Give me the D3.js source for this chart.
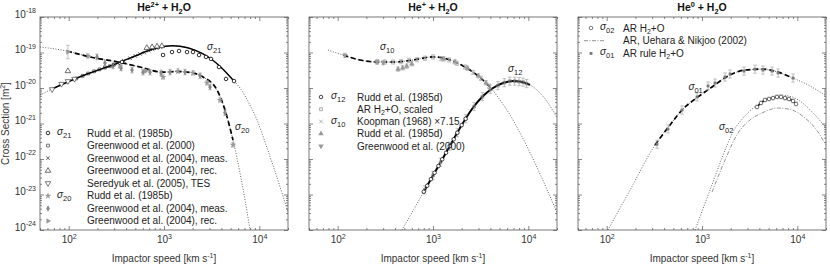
<!DOCTYPE html>
<html lang="en">
<head>
<meta charset="UTF-8">
<title>He + H2O cross sections</title>
<script src="https://cdn.jsdelivr.net/npm/d3@7"></script>
<style>
  body { margin: 0; background: #fff; }
  svg { font-family: "Liberation Sans", Arial, sans-serif; }
  .frame { fill: none; stroke: #555; stroke-width: 0.8px; }
  .axis path { display: none; }
  .axis line { stroke: #555; stroke-width: 0.7px; }
  .axis text { fill: #333; font-size: 10px; font-family: "Liberation Sans", Arial, sans-serif; }
  .dotted { fill: none; stroke: #555; stroke-width: 0.9px; stroke-dasharray: 1, 1.6; }
  .solid { fill: none; stroke: #000; stroke-width: 1.5px; }
  .thick { fill: none; stroke: #000; stroke-width: 2px; }
  .dashed { fill: none; stroke: #000; stroke-width: 1.7px; stroke-dasharray: 5, 3; }
  .dashdot { fill: none; stroke: #888; stroke-width: 0.9px; stroke-dasharray: 4, 1.5, 1, 1.5; }
  .err { stroke: #a8a8a8; stroke-width: 0.7px; }
  .lbl { font-size: 10px; fill: #222; }
</style>
</head>
<body>
<div id="chart"></div>
<script>
// speeds in km/s, cross sections in m^2
const speedDomain = [50, 20000];
const sigmaDomain = [1e-24, 1e-18];
const majorSpeeds = [1e2, 1e3, 1e4];
const majorSigmas = [1e-24, 1e-23, 1e-22, 1e-21, 1e-20, 1e-19, 1e-18];

const panelTitles = ["He^{2+} + H_{2}O", "He^{+} + H_{2}O", "He^{0} + H_{2}O"];
const xTitle = "Impactor speed [km s^{-1}]";
const yTitle = "Cross Section [m^{2}]";

// ---- He2+ ----
const fit21Speed = [50, 67, 103, 156, 271, 497, 713, 1030, 1230, 1470, 2110, 3030, 4030, 5300, 6280, 7980, 9460, 11750, 15000, 20000];
const fit21Sigma = [6.3e-21, 9.4e-21, 1.57e-20, 2.48e-20, 4.17e-20, 7.96e-20, 1.17e-19, 1.5e-19, 1.55e-19, 1.5e-19, 1.17e-19, 7.0e-20, 3.66e-20, 1.68e-20, 1.0e-20, 3.3e-21, 1.26e-21, 2.5e-22, 3.6e-23, 3.2e-24];
const fit21Range = [67, 5300];
const fit20Speed = [50, 96, 167, 329, 560, 953, 1400, 1875, 2566, 3597, 4365, 5297, 6430, 8000];
const fit20Sigma = [1.43e-19, 1.10e-19, 7.5e-20, 5.4e-20, 3.9e-20, 2.8e-20, 2.9e-20, 2.75e-20, 2.04e-20, 8.8e-21, 2.4e-21, 3.4e-22, 2.9e-23, 1.0e-24];
const fit20Range = [96, 5297];

const rudd21Speed = [362, 977, 1214, 1438, 1743, 2015, 2330, 2758, 3113, 3778, 4475, 5430];
const rudd21Sigma = [5.4e-20, 8.5e-20, 1.03e-19, 1.1e-19, 1.03e-19, 1.03e-19, 8.5e-20, 7.5e-20, 6.6e-20, 3.9e-20, 1.8e-20, 1.57e-20];
const gw00Speed21 = [120, 140, 160, 185, 210, 240, 270, 300];
const gw00Sigma21 = [1.85e-20, 2.2e-20, 2.55e-20, 2.95e-20, 3.35e-20, 3.75e-20, 4.1e-20, 4.6e-20];
const gw04mSpeed21 = [330, 380, 440, 500, 560, 620, 690, 760, 840, 920];
const gw04mSigma21 = [5.0e-20, 5.8e-20, 6.9e-20, 8.0e-20, 9.1e-20, 1.0e-19, 1.13e-19, 1.23e-19, 1.32e-19, 1.4e-19];
const gw04rSpeed21 = [98, 660, 750, 845, 950];
const gw04rSigma21 = [3.0e-20, 1.35e-19, 1.42e-19, 1.48e-19, 1.52e-19];
const sereSpeed21 = [67, 84, 98, 115];
const sereSigma21 = [9.2e-21, 1.3e-20, 1.55e-20, 1.8e-20];

const rudd20Speed = [977, 1403, 2015, 2826, 3870, 5300];
const rudd20Sigma = [2.04e-20, 3.0e-20, 2.66e-20, 1.39e-20, 4.6e-21, 2.5e-22];
const gw04mSpeed20 = [198, 240, 292, 354, 462, 602, 713, 931, 1157, 1662, 2389, 3040, 4365];
const gw04mSigma20 = [7.5e-20, 5.1e-20, 4.17e-20, 3.66e-20, 3.2e-20, 2.8e-20, 2.8e-20, 2.66e-20, 2.8e-20, 2.8e-20, 2.2e-20, 1.07e-20, 2.0e-21];
const gw04rSpeed20 = [98, 160, 345, 640];
const gw04rSigma20 = [1.03e-19, 7.96e-20, 4.17e-20, 3.0e-20];
const gw04rErr20 = [0.55, 0.15, 0.12, 0.12];

const legend1 = ["Rudd et al. (1985b)", "Greenwood et al. (2000)", "Greenwood et al. (2004), meas.", "Greenwood et al. (2004), rec.",
  "Seredyuk et al. (2005), TES", "Rudd et al. (1985b)", "Greenwood et al. (2004), meas.", "Greenwood et al. (2004), rec."];

// ---- He+ ----
const fit12Speed = [473, 617, 786, 1050, 1403, 1920, 2567, 3350, 4266, 5430, 6920, 8590, 10420, 13270, 16100, 20000];
const fit12Sigma = [1e-24, 3.5e-24, 1.1e-23, 4.3e-23, 1.68e-22, 7.5e-22, 2.56e-21, 5.96e-21, 1e-20, 1.38e-20, 1.57e-20, 1.48e-20, 1.22e-20, 7.2e-21, 3.8e-21, 1.43e-21];
const fit12Range = [786, 10420];
const fit10Speed = [79, 114, 171, 259, 399, 617, 1000, 1510, 2170, 2966, 3960, 5045, 6430, 8190, 11750, 20000];
const fit10Sigma = [1.17e-19, 8.5e-20, 6.15e-20, 5.4e-20, 5.4e-20, 6.15e-20, 7.5e-20, 6.15e-20, 3.9e-20, 2.2e-20, 1.07e-20, 4.6e-21, 1.74e-21, 5.4e-22, 7.7e-23, 3.1e-24];
const fit10Range = [114, 3960];

const rudd12Speed = [800, 870, 950, 1040, 1140, 1250, 1370, 1500, 1650, 1800, 2000, 2200];
const rudd12Sigma = [1.2e-23, 1.77e-23, 2.7e-23, 4.1e-23, 6.35e-23, 9.8e-23, 1.5e-22, 2.3e-22, 3.6e-22, 5.5e-22, 9.0e-22, 1.36e-21];
const ar12Speed = [820, 1000, 1200, 1500, 1800, 2200, 2700, 3300, 4000, 4800, 5600, 6400, 7200, 8000, 8800, 9600];
const ar12Sigma = [1.35e-23, 3.4e-23, 8.1e-23, 2.3e-22, 5.5e-22, 1.36e-21, 3.0e-21, 5.7e-21, 9.2e-21, 1.17e-20, 1.41e-20, 1.56e-20, 1.56e-20, 1.51e-20, 1.46e-20, 1.33e-20];
const koopSpeed10 = [259, 314, 380, 462, 560, 680, 824, 1000, 1213, 1472, 1786, 2167, 2630, 3190, 3870];
const koopSigma10 = [5.4e-20, 5.4e-20, 5.4e-20, 5.55e-20, 5.98e-20, 6.3e-20, 6.9e-20, 7.5e-20, 6.7e-20, 6.2e-20, 4.97e-20, 3.9e-20, 2.74e-20, 1.87e-20, 1.13e-20];
const rudd10Speed = [430, 480, 530, 600, 1300, 1700, 2300, 3000, 3600];
const rudd10Sigma = [3.4e-20, 3.7e-20, 4.1e-20, 4.8e-20, 6.6e-20, 5.4e-20, 3.6e-20, 2.2e-20, 1.4e-20];
const gw10Speed = [119, 259, 300];
const gw10Sigma = [8.3e-20, 5.5e-20, 5.2e-20];

const legend2 = ["Rudd et al. (1985d)", "AR H_{2}+O, scaled", "Koopman (1968) \u00d77.15", "Rudd et al. (1985d)", "Greenwood et al. (2000)"];

// ---- He0 ----
const fit01Speed = [103, 176, 321, 462, 617, 907, 1274, 1875, 2826, 4262, 6280, 9020, 13600, 20000];
const fit01Sigma = [1e-24, 1.34e-23, 2.48e-22, 9.1e-22, 2.4e-21, 5.6e-21, 1.07e-20, 2.18e-20, 3.2e-20, 3.4e-20, 2.8e-20, 1.9e-20, 1.14e-20, 5.96e-21];
const fit01Range = [321, 9020];
const rule01Speed = [337, 440, 617, 887, 1157, 1371, 1746, 1969, 2760, 3600, 4365, 5430, 6280, 9020];
const rule01Sigma = [2.6e-22, 7.0e-22, 2.4e-21, 5.6e-21, 1.14e-20, 1.38e-20, 2.04e-20, 2.48e-20, 3.0e-20, 3.4e-20, 3.2e-20, 3.0e-20, 2.65e-20, 1.9e-20];
const ar02Speed = [3780, 4160, 4583, 5050, 5562, 6127, 6747, 7430, 8185, 9016, 9695];
const ar02Sigma = [2.92e-21, 3.79e-21, 4.6e-21, 4.9e-21, 5.2e-21, 5.6e-21, 5.6e-21, 5.2e-21, 4.9e-21, 4.3e-21, 3.55e-21];
const fit02Speed = [845, 1214, 1622, 2115, 2826, 3780, 5170, 6580, 8800, 12040, 15350, 20000];
const fit02Sigma = [1e-24, 1.34e-23, 1.07e-22, 5.8e-22, 1.63e-21, 3.3e-21, 5.2e-21, 6.35e-21, 5.6e-21, 3.3e-21, 1.73e-21, 7.5e-22];
const ueharaSpeed = [1274, 1746, 2389, 3190, 4262, 6280, 8800, 12040, 15350, 20000];
const ueharaSigma = [1.17e-23, 9.4e-23, 5.4e-22, 1.26e-21, 1.98e-21, 2.73e-21, 2.4e-21, 1.43e-21, 7.5e-22, 2.48e-22];

const legend3 = ["AR H_{2}+O", "AR, Uehara & Nikjoo (2002)", "AR rule H_{2}+O"];

// curve labels, anchored in data units [speed, sigma, subscript]
const curveLabels = [
  [[2830, 1.17e-19, "21"], [5560, 6.6e-22, "20"]],
  [[278, 1.17e-19, "10"], [6125, 2.8e-20, "12"]],
  [[720, 8.8e-21, "01"], [1509, 6.6e-22, "02"]]
];

//////////////////// layout ////////////////////
const W = 830, H = 264;
const panelLeft = [40, 309, 578];
const plotW = 248, plotTop = 17, plotH = 213;

const svg = d3.select("#chart").append("svg").attr("width", W).attr("height", H);

const x = d3.scaleLog().domain(speedDomain).range([0, plotW]);
const y = d3.scaleLog().domain(sigmaDomain).range([plotH, 0]);

const minorOf = (lo, hi) => {
  let out = [];
  for (let e = Math.floor(Math.log10(lo)); e < Math.ceil(Math.log10(hi)); e++)
    for (let m = 2; m <= 9; m++) {
      let v = m * Math.pow(10, e);
      if (v >= lo * 0.999 && v <= hi * 1.001) out.push(v);
    }
  return out;
};
const minorSpeeds = minorOf(speedDomain[0], speedDomain[1]);
const minorSigmas = minorOf(sigmaDomain[0], sigmaDomain[1]);

// text with ^{..} and _{..}
function rich(sel, str, base) {
  let parts = str.split(/(\^\{[^}]*\}|_\{[^}]*\})/).filter(p => p);
  let shift = 0;
  parts.forEach(p => {
    let want = 0, txt = p, small = false;
    if (p[0] === "^") { want = -0.42 * base; txt = p.slice(2, -1); small = true; }
    else if (p[0] === "_") { want = 0.25 * base; txt = p.slice(2, -1); small = true; }
    let ts = sel.append("tspan").attr("dy", want - shift).text(txt);
    if (small) ts.attr("font-size", (base * 0.7) + "px");
    shift = want;
  });
}
function sigmaText(g, px, py, sub) {
  let t = g.append("text").attr("class", "lbl").attr("x", px).attr("y", py);
  t.append("tspan").attr("font-style", "italic").text("\u03c3");
  t.append("tspan").attr("dy", 3).attr("font-size", "7.5px").text(sub);
}

const shapes = {
  circle: d3.symbol(d3.symbolCircle, 10)(),
  square: d3.symbol(d3.symbolSquare, 8)(),
  times: "M-1.8,-1.8L1.8,1.8M-1.8,1.8L1.8,-1.8",
  triangle: d3.symbol(d3.symbolTriangle, 13)(),
  star: d3.symbol(d3.symbolStar, 14)(),
  diamond: d3.symbol(d3.symbolDiamond, 12)()
};
const styles = {
  rudd21: { shape: "circle", fill: "#fff", stroke: "#000", sw: 0.8 },
  gw00: { shape: "square", fill: "none", stroke: "#222", sw: 0.6 },
  gw04m: { shape: "times", fill: "none", stroke: "#222", sw: 0.7 },
  gw04r: { shape: "triangle", fill: "#fff", stroke: "#333", sw: 0.7 },
  sere: { shape: "triangle", rot: 180, fill: "#fff", stroke: "#444", sw: 0.7 },
  rudd20: { shape: "star", fill: "#999", stroke: "none" },
  gw04m20: { shape: "diamond", fill: "#8a8a8a", stroke: "none" },
  gw04r20: { shape: "triangle", rot: 90, fill: "#999", stroke: "none" },
  rudd12: { shape: "circle", fill: "#fff", stroke: "#000", sw: 0.7 },
  ar12: { shape: "square", fill: "none", stroke: "#777", sw: 0.6 },
  koop: { shape: "times", fill: "none", stroke: "#999", sw: 0.7 },
  rudd10: { shape: "triangle", fill: "#999", stroke: "none" },
  gw10: { shape: "triangle", rot: 180, fill: "#999", stroke: "none" },
  ar02: { shape: "circle", fill: "#fff", stroke: "#444", sw: 0.7 },
  rule01: { shape: "square", fill: "#777", stroke: "none" }
};

const line = d3.line().x(d => x(d[0])).y(d => y(d[1])).curve(d3.curveMonotoneX);
const pairs = (vs, ss) => vs.map((v, i) => [v, ss[i]]);

function drawFrame(g, idx) {
  g.append("clipPath").attr("id", "clip" + idx).append("rect").attr("width", plotW).attr("height", plotH);
  let addAxis = (axis, tr, vals, size, labels) => {
    let a = g.append("g").attr("class", "axis").attr("transform", tr)
      .call(axis.tickValues(vals).tickSize(-size).tickPadding(labels ? labels : 3).tickFormat(labels ? (d => d) : ""));
    return a;
  };
  let xb = addAxis(d3.axisBottom(x), `translate(0,${plotH})`, majorSpeeds, 4, 13);
  xb.selectAll(".tick text").each(function (d) {
    let t = d3.select(this).text(null);
    rich(t, "10^{" + Math.round(Math.log10(d)) + "}", 10);
  });
  addAxis(d3.axisBottom(x), `translate(0,${plotH})`, minorSpeeds, 2);
  addAxis(d3.axisTop(x), "translate(0,0)", majorSpeeds, 4);
  addAxis(d3.axisTop(x), "translate(0,0)", minorSpeeds, 2);
  let yl = addAxis(d3.axisLeft(y), "translate(0,0)", majorSigmas, 4, idx === 0 ? 4 : null);
  if (idx === 0) {
    yl.selectAll(".tick text").each(function (d) {
      let t = d3.select(this).text(null);
      rich(t, "10^{" + Math.round(Math.log10(d)) + "}", 10);
    });
  }
  addAxis(d3.axisLeft(y), "translate(0,0)", minorSigmas, 2);
  addAxis(d3.axisRight(y), `translate(${plotW},0)`, majorSigmas, 4);
  addAxis(d3.axisRight(y), `translate(${plotW},0)`, minorSigmas, 2);
  g.append("rect").attr("class", "frame").attr("width", plotW).attr("height", plotH);

  let tt = g.append("text").attr("x", plotW / 2).attr("y", -6).attr("text-anchor", "middle")
    .attr("font-weight", "bold").attr("font-size", "10.5px").attr("fill", "#111");
  rich(tt, panelTitles[idx], 10.5);
  let xt = g.append("text").attr("x", plotW / 2).attr("y", plotH + 32).attr("text-anchor", "middle")
    .attr("font-size", "10px").attr("fill", "#333");
  rich(xt, xTitle, 10);
}

function fitCurve(g, idx, vs, ss, range, cls) {
  let pts = pairs(vs, ss);
  let c = g.append("g").attr("clip-path", `url(#clip${idx})`);
  c.append("path").attr("class", "dotted").attr("d", line(pts));
  return () => {
    if (!range) return;
    let inner = pts.filter(d => d[0] >= range[0] && d[0] <= range[1]);
    c.append("path").attr("class", cls).attr("d", line(inner));
  };
}

function errBars(g, idx, vs, ss, err) {
  let c = g.append("g").attr("clip-path", `url(#clip${idx})`);
  vs.forEach((v, i) => {
    let e = Array.isArray(err) ? err[i] : err;
    let xx = x(v), y0 = y(ss[i] / (1 + e)), y1 = y(ss[i] * (1 + e));
    c.append("line").attr("class", "err").attr("x1", xx).attr("x2", xx).attr("y1", y0).attr("y2", y1);
    c.append("line").attr("class", "err").attr("x1", xx - 1.8).attr("x2", xx + 1.8).attr("y1", y0).attr("y2", y0);
    c.append("line").attr("class", "err").attr("x1", xx - 1.8).attr("x2", xx + 1.8).attr("y1", y1).attr("y2", y1);
  });
}

function markers(g, vs, ss, st) {
  g.append("g").selectAll("path").data(pairs(vs, ss)).join("path")
    .attr("transform", d => `translate(${x(d[0])},${y(d[1])})` + (st.rot ? ` rotate(${st.rot})` : ""))
    .attr("d", shapes[st.shape]).attr("fill", st.fill).attr("stroke", st.stroke).attr("stroke-width", st.sw || 0);
}

function legendMarker(g, px, py, st) {
  g.append("path").attr("transform", `translate(${px},${py})` + (st.rot ? ` rotate(${st.rot})` : ""))
    .attr("d", shapes[st.shape]).attr("fill", st.fill).attr("stroke", st.stroke).attr("stroke-width", st.sw || 0);
}
function legendText(g, px, py, str) {
  let t = g.append("text").attr("class", "lbl").attr("x", px).attr("y", py + 3.5);
  rich(t, str, 10);
}

function curveLabel(g, lab) {
  sigmaText(g, x(lab[0]), y(lab[1]), lab[2]);
}

//////////////////// panel 1: He2+ ////////////////////
{
  const g = svg.append("g").attr("transform", `translate(${panelLeft[0]},${plotTop})`);
  drawFrame(g, 0);
  let s21 = fitCurve(g, 0, fit21Speed, fit21Sigma, fit21Range, "solid");
  let s20 = fitCurve(g, 0, fit20Speed, fit20Sigma, fit20Range, "dashed");
  errBars(g, 0, gw04mSpeed20, gw04mSigma20, 0.2);
  errBars(g, 0, rudd20Speed, rudd20Sigma, 0.15);
  errBars(g, 0, gw04rSpeed20, gw04rSigma20, gw04rErr20);
  markers(g, gw04mSpeed20, gw04mSigma20, styles.gw04m20);
  markers(g, rudd20Speed, rudd20Sigma, styles.rudd20);
  markers(g, gw04rSpeed20, gw04rSigma20, styles.gw04r20);
  s21(); s20();
  markers(g, gw00Speed21, gw00Sigma21, styles.gw00);
  markers(g, gw04mSpeed21, gw04mSigma21, styles.gw04m);
  markers(g, gw04rSpeed21, gw04rSigma21, styles.gw04r);
  markers(g, sereSpeed21, sereSigma21, styles.sere);
  markers(g, rudd21Speed, rudd21Sigma, styles.rudd21);
  curveLabels[0].forEach(l => curveLabel(g, l));

  const lg = svg.append("g");
  const order = [styles.rudd21, styles.gw00, styles.gw04m, styles.gw04r, styles.sere, styles.rudd20, styles.gw04m20, styles.gw04r20];
  legend1.forEach((txt, i) => {
    let py = 133 + i * 12.57;
    legendMarker(lg, 48, py, order[i]);
    if (i === 0) sigmaText(lg, 57, py + 2, "21");
    if (i === 5) sigmaText(lg, 57, py + 2, "20");
    legendText(lg, 87, py, txt);
  });

  let yt = svg.append("text").attr("transform", `translate(9,${plotTop + plotH / 2}) rotate(-90)`)
    .attr("text-anchor", "middle").attr("font-size", "10px").attr("fill", "#333");
  rich(yt, yTitle, 10);
}

//////////////////// panel 2: He+ ////////////////////
{
  const g = svg.append("g").attr("transform", `translate(${panelLeft[1]},${plotTop})`);
  drawFrame(g, 1);
  let s12 = fitCurve(g, 1, fit12Speed, fit12Sigma, fit12Range, "thick");
  let s10 = fitCurve(g, 1, fit10Speed, fit10Sigma, fit10Range, "dashed");
  errBars(g, 1, ar12Speed, ar12Sigma, 0.3);
  errBars(g, 1, koopSpeed10, koopSigma10, 0.15);
  errBars(g, 1, rudd10Speed, rudd10Sigma, 0.15);
  errBars(g, 1, gw10Speed, gw10Sigma, 0.15);
  markers(g, koopSpeed10, koopSigma10, styles.koop);
  markers(g, rudd10Speed, rudd10Sigma, styles.rudd10);
  markers(g, gw10Speed, gw10Sigma, styles.gw10);
  markers(g, ar12Speed, ar12Sigma, styles.ar12);
  s12(); s10();
  markers(g, rudd12Speed, rudd12Sigma, styles.rudd12);
  curveLabels[1].forEach(l => curveLabel(g, l));

  const lg = svg.append("g");
  const order = [styles.rudd12, styles.ar12, styles.koop, styles.rudd10, styles.gw10];
  legend2.forEach((txt, i) => {
    let py = 97 + i * 12.25;
    legendMarker(lg, 321, py, order[i]);
    if (i === 0) sigmaText(lg, 331, py + 2, "12");
    if (i === 2) sigmaText(lg, 331, py + 2, "10");
    legendText(lg, 357, py, txt);
  });
}

//////////////////// panel 3: He0 ////////////////////
{
  const g = svg.append("g").attr("transform", `translate(${panelLeft[2]},${plotTop})`);
  drawFrame(g, 2);
  let s01 = fitCurve(g, 2, fit01Speed, fit01Sigma, fit01Range, "dashed");
  fitCurve(g, 2, fit02Speed, fit02Sigma, null, "solid");
  g.append("g").attr("clip-path", "url(#clip2)").append("path").attr("class", "dashdot")
    .attr("d", line(pairs(ueharaSpeed, ueharaSigma)));
  errBars(g, 2, rule01Speed, rule01Sigma, 0.3);
  errBars(g, 2, ar02Speed, ar02Sigma, 0.12);
  s01();
  g.append("path").attr("class", "solid").attr("d", line(pairs(ar02Speed, ar02Sigma)));
  markers(g, rule01Speed, rule01Sigma, styles.rule01);
  markers(g, ar02Speed, ar02Sigma, styles.ar02);
  curveLabels[2].forEach(l => curveLabel(g, l));

  const lg = svg.append("g");
  legend3.forEach((txt, i) => {
    let py = 28 + i * 12.7;
    if (i === 1) lg.append("line").attr("class", "dashdot").attr("x1", 584).attr("x2", 604).attr("y1", py).attr("y2", py);
    else legendMarker(lg, 591, py, i === 0 ? styles.ar02 : styles.rule01);
    if (i === 0) sigmaText(lg, 600, py + 2, "02");
    if (i === 2) sigmaText(lg, 600, py + 2, "01");
    legendText(lg, 623, py, txt);
  });
}
</script>
</body>
</html>
